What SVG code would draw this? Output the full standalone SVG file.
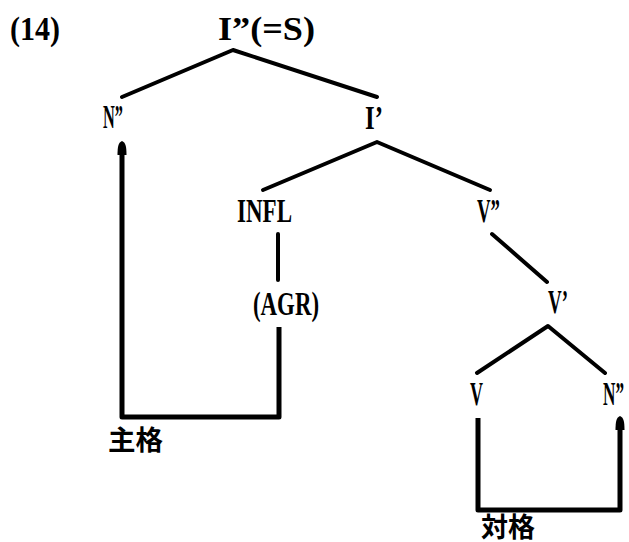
<svg xmlns="http://www.w3.org/2000/svg" width="629" height="542" viewBox="0 0 629 542">
<style>
.lbl{font-family:"Liberation Serif","DejaVu Serif",serif;font-weight:bold;font-size:33px;fill:#000}
.cjk{font-family:"Noto Sans CJK JP","Noto Sans CJK SC",sans-serif;font-weight:bold;font-size:27px;fill:#000}
.edge{stroke:#000;stroke-width:4;fill:none;stroke-linecap:round;stroke-linejoin:round}
.case{stroke:#000;stroke-width:5;fill:none;stroke-linecap:butt;stroke-linejoin:round}
.head{fill:#000;stroke:none}
</style>
<text class="lbl" x="10" y="40" textLength="50" lengthAdjust="spacingAndGlyphs">(14)</text>
<g id="n-Ipp"><text class="lbl" x="218" y="40" textLength="97" lengthAdjust="spacingAndGlyphs">I”(=S)</text></g>
<g id="n-Npp1"><text class="lbl" x="103" y="128" textLength="20" lengthAdjust="spacingAndGlyphs">N”</text></g>
<g id="n-Ip"><text class="lbl" x="365" y="129" textLength="18" lengthAdjust="spacingAndGlyphs">I’</text></g>
<g id="n-INFL"><text class="lbl" x="237" y="222" textLength="55" lengthAdjust="spacingAndGlyphs">INFL</text></g>
<g id="n-Vpp"><text class="lbl" x="477" y="222" textLength="23" lengthAdjust="spacingAndGlyphs">V”</text></g>
<g id="n-AGR"><text class="lbl" x="253" y="315" textLength="66" lengthAdjust="spacingAndGlyphs">(AGR)</text></g>
<g id="n-Vp"><text class="lbl" x="548" y="313" textLength="20" lengthAdjust="spacingAndGlyphs">V’</text></g>
<g id="n-V"><text class="lbl" x="470" y="405" textLength="13" lengthAdjust="spacingAndGlyphs">V</text></g>
<g id="n-Npp2"><text class="lbl" x="603" y="405" textLength="21" lengthAdjust="spacingAndGlyphs">N”</text></g>
<g id="n-nom"><text class="cjk" x="108" y="450" textLength="55" lengthAdjust="spacingAndGlyphs">主格</text></g>
<g id="n-acc"><text class="cjk" x="481" y="537" textLength="54" lengthAdjust="spacingAndGlyphs">対格</text></g>
<g id="connectors">
<polyline class="edge" points="122,97 233,50 377,97"/>
<polyline class="edge" points="263,190 377,142 490,190"/>
<line class="edge" x1="278" y1="234" x2="278" y2="280"/>
<line class="edge" x1="492" y1="234" x2="547" y2="282"/>
<polyline class="edge" points="477,373 548,326 605,373"/>
<polyline class="case" points="279,327 279,417 122,417 122,150"/>
<path class="head" d="M122,141 C125.5,142.5 126.5,146 126.5,155 L117.5,155 C117.5,146 118.5,142.5 122,141 Z"/>
<polyline class="case" points="478,418 478,510 620,510 620,426"/>
<path class="head" d="M620,416 C623.5,417.5 624.5,421 624.5,430 L615.5,430 C615.5,421 616.5,417.5 620,416 Z"/>
</g>
</svg>
